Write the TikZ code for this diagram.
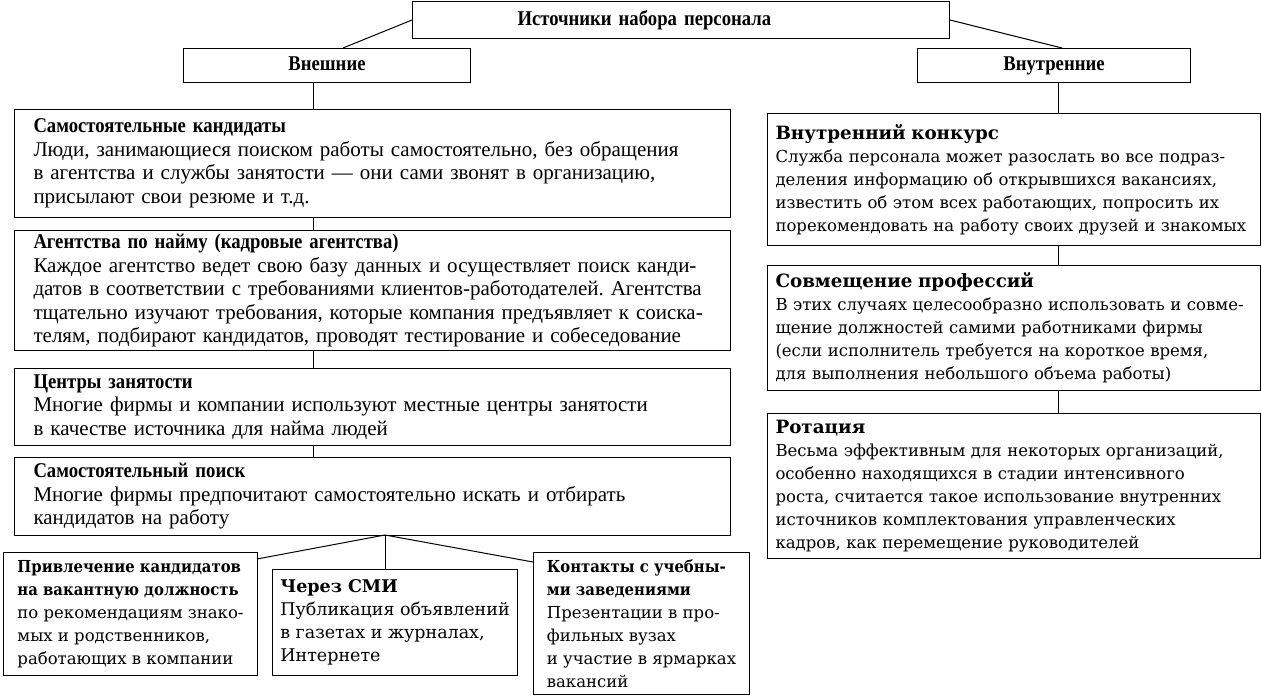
\documentclass[tikz,border=0pt]{standalone}
\usepackage{fontspec}
\setmainfont{Liberation Serif}[BoldFeatures={FakeStretch=0.89}]
\newfontfamily\wideserif{DejaVu Serif}
\newfontfamily\narrowserif{DejaVu Serif}[BoldFeatures={FakeStretch=0.9}]
\newcommand\rtitlefont{\bfseries\fontsize{18.3}{23}\selectfont}
\frenchspacing

\begin{document}
\begin{tikzpicture}[x=1pt,y=-1pt,
  box/.style={draw, line width=1pt, anchor=north west, inner ysep=0pt},
  head/.style={box, text height=14pt, text depth=4pt, font=\bfseries\fontsize{21}{24}\selectfont},
  leftbox/.style={box, minimum width=716pt, inner xsep=19pt, text width=678pt,
    align=left, font=\fontsize{21}{23.5}\selectfont},
  rightbox/.style={box, minimum width=493pt, inner xsep=8pt, text width=477pt,
    align=left, font=\wideserif\fontsize{16.5}{23}\selectfont},
  smallbox/.style={box, align=left, inner xsep=3pt, font=\narrowserif\fontsize{16.5}{23}\selectfont},
  link/.style={line width=1pt}]

  \useasboundingbox (0,0) rectangle (1262,696);

  \node[head, minimum width=537pt, minimum height=37pt, inner xsep=105pt, text width=327pt, align=left] (src) at (412,1) {Источники набора персонала};
  \node[head, minimum width=287pt, minimum height=34pt] (ext) at (183,48) {Внешние};
  \node[head, minimum width=273pt, minimum height=34pt] (int) at (917,48) {Внутренние};

  \coordinate (extin) at (343,48);
  \coordinate (intin) at (1062,48);
  \coordinate (lx) at (313,0);
  \coordinate (rx) at (1058,0);
  \coordinate (fan) at (385,535);
  \coordinate (toB1) at (257,559);
  \coordinate (toB3) at (533,562);

  % external sources
  \node[leftbox, minimum height=108pt] (cand) at (14,109) {\textbf{Самостоятельные кандидаты}\\
    Люди, занимающиеся поиском работы самостоятельно, без обращения\\
    в агентства и службы занятости — они сами звонят в организацию,\\
    присылают свои резюме и т.д.};
  \node[leftbox, minimum height=120pt] (agency) at (14,230) {\textbf{Агентства по найму (кадровые агентства)}\\
    Каждое агентство ведет свою базу данных и осуществляет поиск канди-\\
    датов в соответствии с требованиями клиентов-работодателей. Агентства\\
    тщательно изучают требования, которые компания предъявляет к соиска-\\
    телям, подбирают кандидатов, проводят тестирование и собеседование};
  \node[leftbox, minimum height=77pt] (centre) at (14,368) {\textbf{Центры занятости}\\
    Многие фирмы и компании используют местные центры занятости\\
    в качестве источника для найма людей};
  \node[leftbox, minimum height=78pt] (search) at (14,457) {\textbf{Самостоятельный поиск}\\
    Многие фирмы предпочитают самостоятельно искать и отбирать\\
    кандидатов на работу};

  \node[smallbox, minimum width=254pt, minimum height=123pt] (refer) at (3,552)
    {\textbf{Привлечение кандидатов}\\ \textbf{на вакантную должность}\\
    по рекомендациям знако-\\ мых и родственников,\\ работающих в компании};
  \node[smallbox, minimum width=245pt, minimum height=106pt, font=\wideserif\fontsize{17.5}{23}\selectfont] (media) at (272,569)
    {\textbf{Через СМИ}\\ Публикация объявлений\\ в газетах и журналах,\\ Интернете};
  \node[smallbox, minimum width=216pt, minimum height=142pt] (school) at (533,552)
    {\textbf{Контакты с учебны-}\\ \textbf{ми заведениями}\\
    Презентации в про-\\ фильных вузах\\ и участие в ярмарках\\ вакансий};

  % internal sources
  \node[rightbox, minimum height=132pt] (contest) at (767,113) {{\rtitlefont Внутренний конкурс}\\
    Служба персонала может разослать во все подраз-\\
    деления информацию об открывшихся вакансиях,\\
    известить об этом всех работающих, попросить их\\
    порекомендовать на работу своих друзей и знакомых};
  \node[rightbox, minimum height=125pt] (combine) at (767,265) {{\rtitlefont Совмещение профессий}\\
    В этих случаях целесообразно использовать и совме-\\
    щение должностей самими работниками фирмы\\
    (если исполнитель требуется на короткое время,\\
    для выполнения небольшого объема работы)};
  \node[rightbox, minimum height=145pt] (rotate) at (767,413) {{\rtitlefont Ротация}\\
    Весьма эффективным для некоторых организаций,\\
    особенно находящихся в стадии интенсивного\\
    роста, считается такое использование внутренних\\
    источников комплектования управленческих\\
    кадров, как перемещение руководителей};

  \draw[link] (src.west) -- (extin);
  \draw[link] (src.east) -- (intin);
  \draw[link] (ext.south -| lx) -- (cand.north -| lx);
  \draw[link] (cand.south -| lx) -- (agency.north -| lx);
  \draw[link] (agency.south -| lx) -- (centre.north -| lx);
  \draw[link] (centre.south -| lx) -- (search.north -| lx);
  \draw[link] (fan) -- (toB1);
  \draw[link] (fan) -- (media.north -| fan);
  \draw[link] (fan) -- (toB3);
  \draw[link] (int.south -| rx) -- (contest.north -| rx);
  \draw[link] (contest.south -| rx) -- (combine.north -| rx);
  \draw[link] (combine.south -| rx) -- (rotate.north -| rx);
\end{tikzpicture}
\end{document}
